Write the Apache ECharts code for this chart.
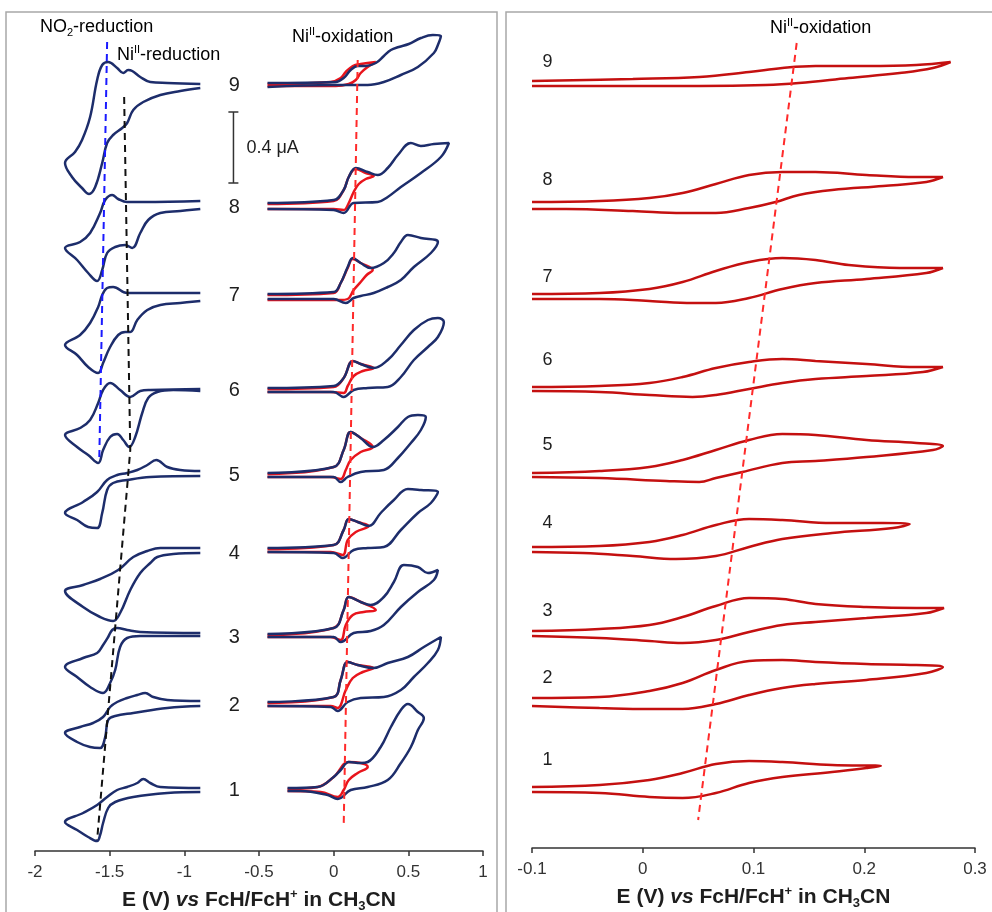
<!DOCTYPE html>
<html>
<head>
<meta charset="utf-8">
<script src="https://cdn.jsdelivr.net/npm/echarts@6/dist/echarts.min.js"></script>
<style>
  html, body { margin: 0; padding: 0; background: #fff; }
  #main { width: 992px; height: 912px; }
</style>
</head>
<body>
<div id="main"></div>
<script>
// E in V, current as stacked offset (a.u.; 71 units = 0.4 uA)
var leftRange = [-2, 1, 0.5];
var rightRange = [-0.1, 0.3, 0.1];
var sampleNames = ['1', '2', '3', '4', '5', '6', '7', '8', '9'];

// wide scans, reduction side (blue), samples 1..9
var reductionScans = [
    [[-0.893,63],[-1.161,64],[-1.228,68],[-1.275,72],[-1.315,68],[-1.383,64],[-1.450,61],[-1.517,54],[-1.584,46],[-1.678,38],[-1.799,29],[-1.718,21],[-1.644,14],[-1.584,10],[-1.564,16],[-1.544,28],[-1.510,43],[-1.463,49],[-1.342,54],[-1.114,58],[-0.893,59]],
    [[-0.893,150],[-1.114,151],[-1.208,154],[-1.262,158],[-1.315,156],[-1.383,153],[-1.450,149],[-1.497,144],[-1.544,134],[-1.611,128],[-1.698,124],[-1.799,118],[-1.718,109],[-1.631,104],[-1.564,103],[-1.530,114],[-1.510,131],[-1.463,135],[-1.342,138],[-1.114,143],[-0.893,145]],
    [[-0.893,218],[-1.295,219],[-1.383,221],[-1.450,223],[-1.483,221],[-1.510,214],[-1.544,206],[-1.584,198],[-1.678,193],[-1.799,184],[-1.718,174],[-1.631,164],[-1.544,158],[-1.497,168],[-1.463,181],[-1.430,204],[-1.383,213],[-1.295,215],[-0.893,215]],
    [[-0.893,303],[-1.161,303],[-1.248,300],[-1.342,294],[-1.443,281],[-1.564,272],[-1.678,266],[-1.799,260],[-1.678,244],[-1.564,234],[-1.477,230],[-1.430,238],[-1.362,261],[-1.295,278],[-1.228,288],[-1.181,294],[-1.074,297],[-0.893,298]],
    [[-0.893,380],[-1.027,381],[-1.114,384],[-1.188,391],[-1.248,386],[-1.315,381],[-1.383,378],[-1.450,376],[-1.517,371],[-1.584,359],[-1.678,349],[-1.799,338],[-1.718,331],[-1.644,324],[-1.584,323],[-1.550,338],[-1.517,361],[-1.477,368],[-1.383,371],[-1.228,374],[-0.893,375]],
    [[-0.893,462],[-1.228,461],[-1.295,460],[-1.362,454],[-1.430,461],[-1.497,468],[-1.544,461],[-1.577,448],[-1.631,431],[-1.698,423],[-1.799,416],[-1.718,404],[-1.644,396],[-1.577,388],[-1.544,401],[-1.497,414],[-1.450,417],[-1.409,411],[-1.369,404],[-1.329,414],[-1.282,438],[-1.242,453],[-1.181,459],[-1.074,461],[-0.893,460]],
    [[-0.893,558],[-1.228,558],[-1.383,558],[-1.477,564],[-1.517,563],[-1.550,556],[-1.577,544],[-1.631,528],[-1.698,516],[-1.799,506],[-1.718,496],[-1.644,484],[-1.577,478],[-1.544,488],[-1.497,504],[-1.443,516],[-1.396,519],[-1.362,519],[-1.315,531],[-1.248,541],[-1.161,546],[-1.027,548],[-0.893,550]],
    [[-0.893,650],[-1.275,649],[-1.383,649],[-1.443,652],[-1.483,656],[-1.530,651],[-1.564,638],[-1.631,618],[-1.698,609],[-1.799,603],[-1.718,591],[-1.644,578],[-1.584,570],[-1.550,581],[-1.517,598],[-1.463,604],[-1.396,606],[-1.349,603],[-1.295,618],[-1.242,631],[-1.161,638],[-1.027,640],[-0.893,642]],
    [[-0.893,767],[-1.114,768],[-1.228,769],[-1.295,774],[-1.349,780],[-1.376,781],[-1.409,778],[-1.450,783],[-1.510,789],[-1.550,786],[-1.584,771],[-1.631,734],[-1.685,711],[-1.732,699],[-1.799,688],[-1.752,674],[-1.685,663],[-1.638,657],[-1.597,664],[-1.550,688],[-1.517,708],[-1.477,716],[-1.416,723],[-1.383,728],[-1.342,741],[-1.275,749],[-1.161,756],[-1.027,760],[-0.893,763]]
];

// wide scans, oxidation side (blue)
var oxidationScans = [
    [[-0.309,63],[-0.107,64],[0,74],[0.047,81],[0.101,89],[0.181,88],[0.228,89],[0.315,104],[0.383,124],[0.450,141],[0.497,147],[0.564,139],[0.604,133],[0.564,121],[0.517,104],[0.450,88],[0.362,71],[0.228,64],[0.114,61],[0.027,52],[-0.040,56],[-0.221,60],[-0.309,60]],
    [[-0.443,149],[0,154],[0.047,171],[0.094,189],[0.161,186],[0.268,183],[0.362,188],[0.497,194],[0.604,204],[0.718,214],[0.698,201],[0.631,188],[0.537,174],[0.450,161],[0.336,154],[0.181,153],[0.094,149],[0.027,140],[-0.020,144],[-0.443,145]],
    [[-0.443,217],[0,223],[0.067,241],[0.101,254],[0.181,249],[0.248,246],[0.336,254],[0.403,269],[0.470,286],[0.564,284],[0.631,278],[0.698,281],[0.671,271],[0.564,259],[0.450,244],[0.336,226],[0.248,220],[0.134,218],[0.047,209],[0,214],[-0.443,214]],
    [[-0.443,303],[0,306],[0.067,321],[0.101,332],[0.161,329],[0.235,325],[0.315,338],[0.403,351],[0.497,362],[0.584,361],[0.698,359],[0.651,348],[0.564,338],[0.450,321],[0.336,304],[0.228,303],[0.134,301],[0.060,293],[0,298],[-0.443,299]],
    [[-0.443,378],[0,384],[0.067,401],[0.114,419],[0.181,413],[0.262,404],[0.336,411],[0.430,424],[0.497,434],[0.564,436],[0.617,434],[0.584,421],[0.517,408],[0.430,393],[0.336,381],[0.181,379],[0.094,374],[0.047,369],[0,374],[-0.443,374]],
    [[-0.443,463],[0,465],[0.067,473],[0.128,490],[0.181,487],[0.268,483],[0.362,491],[0.450,506],[0.537,521],[0.631,531],[0.698,533],[0.738,529],[0.698,514],[0.631,504],[0.537,491],[0.450,474],[0.362,464],[0.228,463],[0.134,461],[0.067,454],[0,459],[-0.443,459]],
    [[-0.443,557],[0,559],[0.047,568],[0.094,584],[0.128,593],[0.181,588],[0.248,583],[0.336,588],[0.403,598],[0.450,609],[0.497,616],[0.584,613],[0.698,609],[0.651,598],[0.537,584],[0.450,571],[0.362,564],[0.268,558],[0.181,555],[0.134,553],[0.081,548],[0,552],[-0.443,552]],
    [[-0.443,648],[0,651],[0.067,661],[0.101,674],[0.148,683],[0.228,679],[0.295,676],[0.362,683],[0.430,696],[0.517,708],[0.584,705],[0.671,707],[0.772,708],[0.718,694],[0.584,678],[0.450,664],[0.362,654],[0.295,649],[0.134,648],[0.067,638],[0,641],[-0.443,642]],
    [[-0.443,768],[0.013,769],[0.067,773],[0.114,781],[0.161,785],[0.215,785],[0.282,788],[0.336,795],[0.383,801],[0.436,804],[0.503,807],[0.584,813],[0.664,816],[0.718,815],[0.698,806],[0.671,798],[0.564,784],[0.450,776],[0.336,769],[0.228,766],[0,766],[-0.443,764]]
];

// narrow scans around the Ni(II) oxidation (red)
var narrowScans = [
    [[-0.309,62],[-0.107,64],[0,74],[0.101,89],[0.181,88],[0.228,84],[0.161,78],[0.101,71],[0.067,61],[0.027,54],[-0.087,59],[-0.309,60]],
    [[-0.443,148],[0,154],[0.047,171],[0.094,189],[0.161,186],[0.268,183],[0.195,179],[0.128,173],[0.081,161],[0.027,143],[-0.020,145],[-0.443,145]],
    [[-0.443,216],[0,223],[0.067,241],[0.101,254],[0.181,249],[0.282,241],[0.201,239],[0.128,236],[0.081,226],[0.047,211],[-0.020,214],[-0.443,214]],
    [[-0.443,302],[0,306],[0.067,321],[0.101,332],[0.161,329],[0.235,325],[0.148,319],[0.094,311],[0.060,296],[-0.020,299],[-0.443,299]],
    [[-0.443,377],[0,384],[0.067,401],[0.114,419],[0.181,413],[0.262,404],[0.181,399],[0.114,391],[0.081,381],[0.047,372],[-0.020,374],[-0.443,374]],
    [[-0.443,462],[0,464],[0.067,473],[0.128,490],[0.181,487],[0.268,483],[0.195,480],[0.134,475],[0.094,465],[0.067,458],[-0.020,459],[-0.443,459]],
    [[-0.443,556],[0,558],[0.047,568],[0.094,583],[0.128,592],[0.181,588],[0.262,581],[0.221,576],[0.181,569],[0.134,561],[0.094,552],[0.047,551],[-0.443,551]],
    [[-0.443,647],[0,650],[0.067,661],[0.101,674],[0.148,682],[0.215,678],[0.268,675],[0.215,672],[0.168,667],[0.134,659],[0.101,648],[0.067,641],[0,642],[-0.443,642]],
    [[-0.443,767],[-0.020,769],[0.047,773],[0.081,779],[0.128,785],[0.181,787],[0.282,789],[0.228,784],[0.181,778],[0.148,771],[0.101,767],[0.013,765],[-0.443,765]]
];

// right panel, expanded narrow scans
var zoomScans = [
    [[-0.100,61],[-0.039,63],[0.006,68],[0.036,75],[0.066,84],[0.096,87],[0.126,86],[0.171,83],[0.215,82],[0.202,80],[0.171,76],[0.126,71],[0.096,65],[0.066,55],[0.036,50],[0.006,51],[-0.039,55],[-0.100,56]],
    [[-0.100,150],[-0.039,151],[0.006,157],[0.036,165],[0.066,178],[0.096,187],[0.126,188],[0.156,186],[0.202,184],[0.247,183],[0.271,181],[0.256,175],[0.202,168],[0.156,164],[0.126,160],[0.096,153],[0.066,144],[0.036,139],[0.006,139],[-0.039,140],[-0.100,142]],
    [[-0.100,217],[-0.039,219],[0.006,223],[0.036,231],[0.066,242],[0.096,250],[0.126,249],[0.156,244],[0.202,241],[0.247,240],[0.272,240],[0.256,235],[0.202,230],[0.156,226],[0.126,223],[0.096,216],[0.066,208],[0.036,205],[0.006,207],[-0.039,210],[-0.100,212]],
    [[-0.100,301],[-0.039,302],[0.006,306],[0.036,313],[0.066,323],[0.096,329],[0.126,328],[0.171,325],[0.217,325],[0.241,324],[0.226,320],[0.171,315],[0.126,309],[0.096,301],[0.066,292],[0.030,289],[-0.009,292],[-0.054,295],[-0.100,296]],
    [[-0.100,375],[-0.039,377],[0.006,381],[0.036,388],[0.066,398],[0.096,408],[0.126,414],[0.156,413],[0.202,408],[0.247,405],[0.271,402],[0.262,398],[0.202,391],[0.156,387],[0.126,385],[0.090,376],[0.066,370],[0.051,366],[0.021,367],[-0.039,370],[-0.100,371]],
    [[-0.100,461],[-0.039,462],[0.006,465],[0.036,471],[0.066,480],[0.096,486],[0.126,489],[0.156,487],[0.202,484],[0.247,481],[0.271,481],[0.253,476],[0.202,472],[0.156,469],[0.126,465],[0.096,459],[0.066,453],[0.045,451],[0.006,453],[-0.039,456],[-0.100,457]],
    [[-0.100,554],[-0.039,555],[0.006,559],[0.036,566],[0.066,577],[0.096,586],[0.126,590],[0.156,588],[0.186,583],[0.232,580],[0.271,580],[0.256,575],[0.202,569],[0.156,565],[0.126,559],[0.096,550],[0.066,545],[0.045,545],[0.006,547],[-0.039,549],[-0.100,549]],
    [[-0.100,646],[-0.039,647],[0.006,650],[0.036,655],[0.066,664],[0.096,673],[0.126,676],[0.156,676],[0.202,673],[0.247,671],[0.271,671],[0.256,666],[0.217,662],[0.171,658],[0.141,653],[0.120,646],[0.096,640],[0.066,635],[0.036,635],[-0.009,637],[-0.069,639],[-0.100,639]],
    [[-0.100,767],[-0.009,769],[0.051,771],[0.096,776],[0.126,780],[0.156,782],[0.202,782],[0.247,783],[0.278,786],[0.262,780],[0.232,775],[0.186,770],[0.141,765],[0.111,763],[0.051,762],[-0.009,762],[-0.100,762]]
];

// peak guide lines
var no2Guide = [[-1.517,809],[-1.570,389]];
var niRedGuide = [[-1.403,754],[-1.362,401],[-1.584,11]];
var niOxGuide = [[0.161,791],[0.067,24]];
var niOxGuideRight = [[0.139,805],[0.050,28]];

// where the sample numbers sit (data coords)
var leftLabelE = -0.665;
var leftLabelY = [61, 146, 214, 298, 376, 461, 556, 644, 766];
var rightLabelE = -0.086;
var rightLabelY = [88, 170, 237, 325, 403, 488, 571, 668, 786];

var NAVY = '#1d2d6b';
var RED = '#e8141c';
var DARKRED = '#c41010';
var INK = '#1e1e1e';
var FONT = '"Liberation Sans", Arial, sans-serif';

function loop(data, idx, color, z) {
    return {
        type: 'line', xAxisIndex: idx, yAxisIndex: idx, data: data,
        showSymbol: false, smooth: 0.4, silent: true, z: z,
        lineStyle: { color: color, width: 2.5 }
    };
}

function guide(data, idx, color) {
    return {
        type: 'line', xAxisIndex: idx, yAxisIndex: idx, data: data,
        showSymbol: false, silent: true, z: 5,
        lineStyle: { color: color, width: 2, type: [7, 5] }
    };
}

function numberLabels(idx, e, ys, size) {
    return {
        type: 'scatter', xAxisIndex: idx, yAxisIndex: idx, symbolSize: 0, silent: true,
        itemStyle: { opacity: 1 },
        data: ys.map(function (y, i) { return [e, y, sampleNames[i]]; }),
        label: {
            show: true, position: 'inside', formatter: function (p) { return p.data[2]; },
            fontSize: size, color: INK, fontFamily: FONT, textBorderWidth: 0, opacity: 1
        }
    };
}

var series = [];
for (var i = 0; i < 9; i++) {
    series.push(loop(reductionScans[i], 0, NAVY, 3));
    series.push(loop(narrowScans[i], 0, RED, 2));
    series.push(loop(oxidationScans[i], 0, NAVY, 3));
    series.push(loop(zoomScans[i], 1, DARKRED, 3));
}
series.push(guide(no2Guide, 0, '#1a1aff'));
series.push(guide(niRedGuide, 0, '#111'));
series.push(guide(niOxGuide, 0, '#ff2a2a'));
series.push(guide(niOxGuideRight, 1, '#ff2a2a'));
series.push(numberLabels(0, leftLabelE, leftLabelY, 20));
series.push(numberLabels(1, rightLabelE, rightLabelY, 18));

// 0.4 uA scale bar
series.push({
    type: 'line', xAxisIndex: 0, yAxisIndex: 0, showSymbol: false, silent: true,
    data: [[-0.705, 739], [-0.638, 739], [-0.671, 739], [-0.671, 668], [-0.705, 668], [-0.638, 668]],
    lineStyle: { color: '#333', width: 1.5 }
});
series.push({
    type: 'scatter', xAxisIndex: 0, yAxisIndex: 0, symbolSize: 0, silent: true,
    itemStyle: { opacity: 1 },
    data: [[-0.584, 703]],
    label: { show: true, position: 'right', distance: 0, formatter: '0.4 \u03bcA', fontSize: 18, color: INK, fontFamily: FONT, textBorderWidth: 0, opacity: 1 }
});

var axisTitle = '{b|E (V) }{i|vs}{b| FcH/FcH}{sup|+}{b| in CH}{sub|3}{b|CN}';
var axisTitleRich = {
    b: { fontSize: 21, fontWeight: 'bold', color: INK, fontFamily: FONT, lineHeight: 25 },
    i: { fontSize: 21, fontWeight: 'bold', fontStyle: 'italic', color: INK, fontFamily: FONT, lineHeight: 25 },
    sup: { fontSize: 13, fontWeight: 'bold', color: INK, fontFamily: FONT, verticalAlign: 'top', lineHeight: 25 },
    sub: { fontSize: 13, fontWeight: 'bold', color: INK, fontFamily: FONT, verticalAlign: 'bottom', lineHeight: 21 }
};

function xAxisFor(idx, range) {
    return {
        type: 'value', gridIndex: idx, min: range[0], max: range[1], interval: range[2],
        name: axisTitle, nameLocation: 'middle', nameGap: 37,
        nameTextStyle: { rich: axisTitleRich },
        axisLine: { onZero: false, lineStyle: { color: '#333', width: 1.5 } },
        axisTick: { length: 5, lineStyle: { color: '#333', width: 1.5 } },
        axisLabel: { fontSize: 17, color: '#333', margin: 13, fontFamily: FONT },
        splitLine: { show: false }
    };
}

var annoStyle = {
    a: { fontSize: 18, color: INK, fontFamily: FONT, lineHeight: 22 },
    s: { fontSize: 11, color: INK, fontFamily: FONT, verticalAlign: 'bottom', lineHeight: 18 },
    p: { fontSize: 11, color: INK, fontFamily: FONT, verticalAlign: 'top', lineHeight: 22 }
};

function anno(x, y, text) {
    return { type: 'text', x: x, y: y, z: 10, style: { text: text, rich: annoStyle, verticalAlign: 'middle' } };
}

var option = {
    animation: false,
    backgroundColor: '#fff',
    grid: [
        { left: 35, right: 509, top: 12, bottom: 61, outerBoundsMode: 'none', containLabel: false },
        { left: 532, right: 17, top: 12, bottom: 64, outerBoundsMode: 'none', containLabel: false }
    ],
    xAxis: [xAxisFor(0, leftRange), xAxisFor(1, rightRange)],
    yAxis: [
        { type: 'value', gridIndex: 0, min: 0, max: 839, show: false },
        { type: 'value', gridIndex: 1, min: 0, max: 836, show: false }
    ],
    graphic: [
        { type: 'rect', shape: { x: 6, y: 12, width: 491, height: 920 }, style: { fill: 'none', stroke: '#a8a8a8', lineWidth: 1.5 } },
        { type: 'rect', shape: { x: 506, y: 12, width: 500, height: 920 }, style: { fill: 'none', stroke: '#a8a8a8', lineWidth: 1.5 } },
        anno(40, 27, '{a|NO}{s|2}{a|-reduction}'),
        anno(117, 55, '{a|Ni}{p|II}{a|-reduction}'),
        anno(292, 37, '{a|Ni}{p|II}{a|-oxidation}'),
        anno(770, 28, '{a|Ni}{p|II}{a|-oxidation}')
    ],
    series: series
};

var chart = echarts.init(document.getElementById('main'));
chart.setOption(option);
</script>
</body>
</html>
